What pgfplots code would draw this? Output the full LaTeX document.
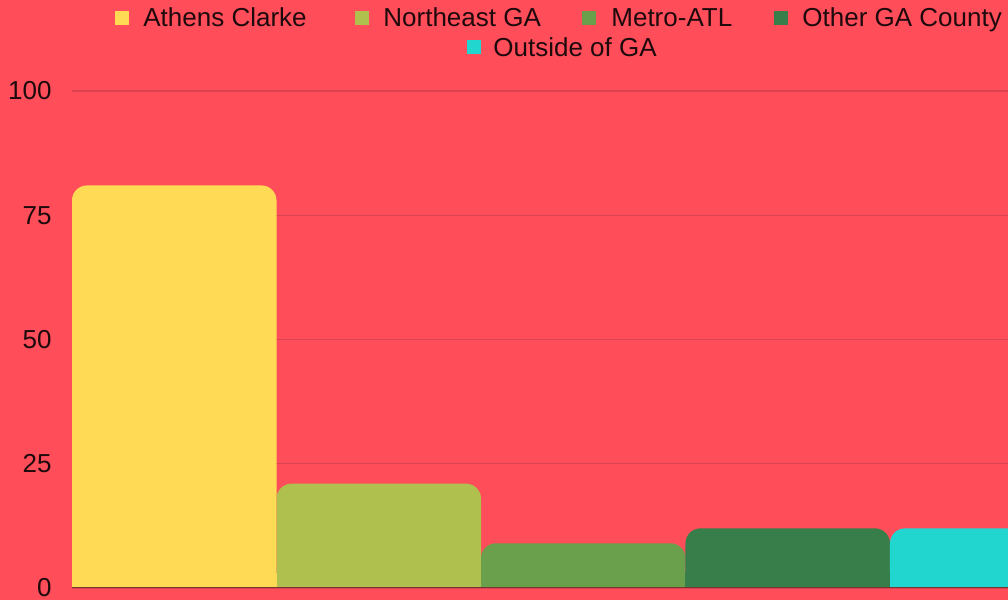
\documentclass[border=0pt]{standalone}
\usepackage{pgfplots}
\usepackage{pgfplotstable}
\pgfplotsset{compat=1.18}
\usepackage{fontspec}
\setmainfont{Liberation Sans}
\definecolor{bg}{HTML}{FF4D5A}
\definecolor{gridc}{HTML}{D94450}
\definecolor{basec}{HTML}{7A3530}
\definecolor{txt}{HTML}{1E0A0C}
\definecolor{c1}{HTML}{FFDA55}
\definecolor{c2}{HTML}{AFC04F}
\definecolor{c3}{HTML}{6AA04B}
\definecolor{c4}{HTML}{387E4B}
\definecolor{c5}{HTML}{22D6D0}
\newcommand{\lf}{\fontsize{13}{15}\selectfont}
\pgfplotstableread{
x y
0 81
}\athens
\pgfplotstableread{
x y
1 21
}\northeast
\pgfplotstableread{
x y
2 9
}\metro
\pgfplotstableread{
x y
3 12
}\otherga
\pgfplotstableread{
x y
4 12
}\outside
\begin{document}
\begin{tikzpicture}
\useasboundingbox (0,0) rectangle (504pt,300pt);
\clip (0,0) rectangle (504pt,300pt);
\fill[bg] (0,0) rectangle (504pt,300pt);
\begin{axis}[
  at={(36pt,6pt)}, anchor=south west,
  scale only axis,
  width=511.25pt, height=248.5pt,
  xmin=-0.5, xmax=4.5, ymin=0, ymax=100,
  ytick={0,25,50,75,100},
  xtick=\empty,
  ymajorgrids,
  major grid style={gridc, line width=0.65pt},
  axis line style={draw=none},
  tick style={draw=none},
  yticklabel style={font=\lf, text=txt, inner sep=0pt, xshift=-10pt},
  /pgf/number format/assume math mode=true,
  ybar, bar width=1,
  round/.style={draw=none, bar shift=0pt, rounded corners=7.5pt},
  base/.style={draw=none, bar shift=0pt, forget plot, restrict y to domain*=0:3},
]
\addplot[fill=c1, round] table[x=x,y=y]{\athens};
\addplot[fill=c2, round] table[x=x,y=y]{\northeast};
\addplot[fill=c3, round] table[x=x,y=y]{\metro};
\addplot[fill=c4, round] table[x=x,y=y]{\otherga};
\addplot[fill=c5, round] table[x=x,y=y]{\outside};
\addplot[fill=c1, base] table[x=x,y=y]{\athens};
\addplot[fill=c2, base] table[x=x,y=y]{\northeast};
\addplot[fill=c3, base] table[x=x,y=y]{\metro};
\addplot[fill=c4, base] table[x=x,y=y]{\otherga};
\addplot[fill=c5, base] table[x=x,y=y]{\outside};
\draw[basec, line width=0.7pt] (axis cs:-0.5,0) -- (axis cs:4.5,0);
\end{axis}
% legend
\fill[c1] (57.5pt,287.5pt) rectangle ++(6.75pt,6.75pt);
\fill[c2] (177.5pt,287.5pt) rectangle ++(6.75pt,6.75pt);
\fill[c3] (291pt,287.5pt) rectangle ++(6.75pt,6.75pt);
\fill[c4] (387pt,287.5pt) rectangle ++(6.75pt,6.75pt);
\fill[c5] (233.5pt,273pt) rectangle ++(6.75pt,6.75pt);
\node[anchor=base west, inner sep=0pt, font=\lf, text=txt] at (71.5pt,286.5pt) {Athens Clarke};
\node[anchor=base west, inner sep=0pt, font=\lf, text=txt] at (191.5pt,286.5pt) {Northeast GA};
\node[anchor=base west, inner sep=0pt, font=\lf, text=txt] at (305.5pt,286.5pt) {Metro-ATL};
\node[anchor=base west, inner sep=0pt, font=\lf, text=txt] at (401pt,286.5pt) {Other GA County};
\node[anchor=base west, inner sep=0pt, font=\lf, text=txt] at (246.5pt,271.5pt) {Outside of GA};
\end{tikzpicture}
\end{document}
